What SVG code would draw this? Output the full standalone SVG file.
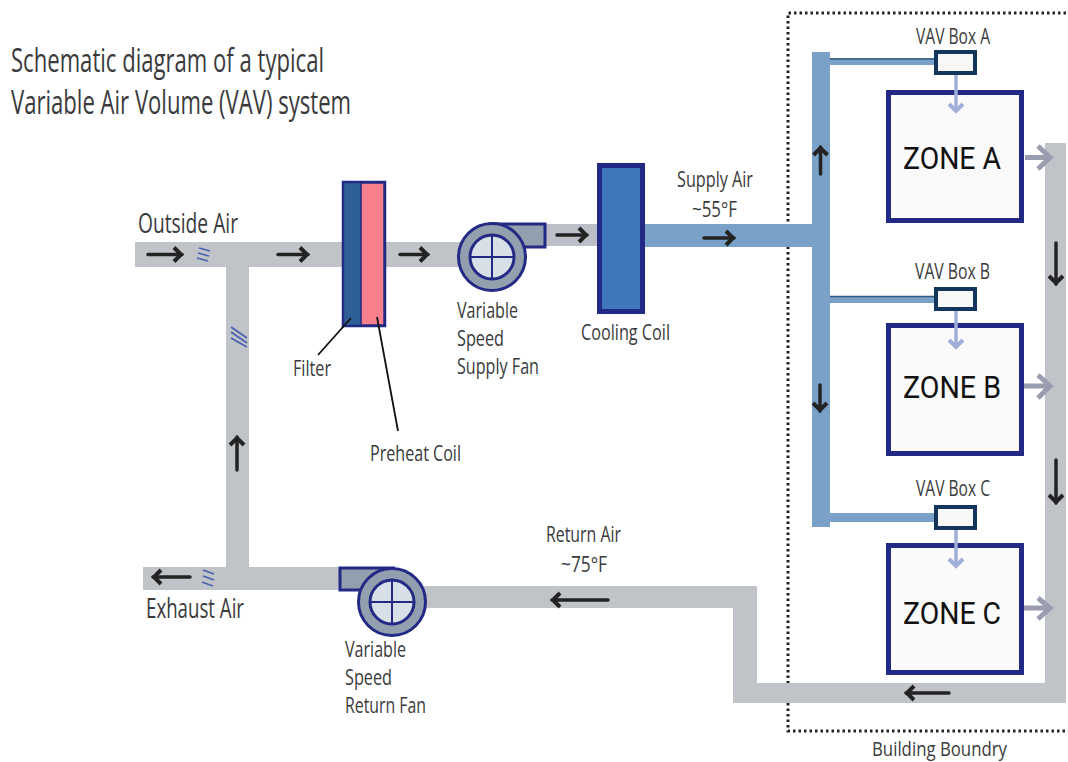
<svg xmlns="http://www.w3.org/2000/svg" width="1068" height="762" viewBox="0 0 1068 762">
<style>
text{font-family:"Open Sans","Noto Sans","Liberation Sans",sans-serif;fill:#3a3a3c}
.t{font-size:22.500px}
.b{font-size:20.500px}
.h{font-size:32px}
.o{font-size:27px}
.v{font-size:21px}
.z{font-family:"Roboto","Open Sans",sans-serif;font-size:32px;fill:#111;text-anchor:middle}
.duct{fill:#c0c3c8}
.sup{fill:#7aa2c8}
.zone{fill:#fafafa;stroke:#232a85;stroke-width:5}
.vav{fill:#f7f7f8;stroke:#12355b;stroke-width:4}
.fan{fill:#929fae;stroke:#232a85;stroke-width:3}
.fanin{fill:#d8e0e7;stroke:#232a85;stroke-width:3}
.bl{stroke:#232a85;stroke-width:2;fill:none}
.ar{fill:none;stroke:#232323;stroke-width:3.500;stroke-linecap:round}
.dn{fill:none;stroke:#9fafd8;stroke-width:3.500}
.out{fill:none;stroke:#9a9cb0;stroke-width:5}
.dam{stroke:#4a62b0;stroke-width:1.800;fill:none}
.lead{stroke:#111;stroke-width:1.800;fill:none}
</style>
<defs>
<marker id="h" markerUnits="userSpaceOnUse" markerWidth="16" markerHeight="18" refX="12" refY="9" orient="auto"><path d="M4 2L11 9L4 16" fill="none" stroke="#232323" stroke-width="4"/></marker>
</defs>
<path id="boundary" d="M1066 13H788V731H1066" fill="none" stroke="#222" stroke-width="3" stroke-dasharray="2.500 3"/>
<g id="connectors">
<path class="duct" d="M135 242H460V267H249V567H345V590H143V567H226V267H135Z"/>
<path class="duct" d="M420 586H757V683H1045V143H1066V703H733V608H420Z"/>
<path d="M540 224H600V246H540Z" fill="#bcbec8"/>
<path class="sup" d="M640 224H812V52H830V58H935V65H830V296H935V303H830V513H935V522H830V527H812V247H640Z"/>
<path d="M830 59H935M830 296.500H935" stroke="#33597f" stroke-width="1.500"/>
<g class="dam"><path d="M199 248L210 251M198 253L209 256M197 258L208 261"/><path d="M231 327L247 338M231 332L247 343M231 338L247 347"/><path d="M203 570L214 574M203 576L214 580M202 582L213 586"/></g>
<path class="lead" d="M351 318L318 355M377 317L398 431"/>
</g>
<g id="filter"><rect x="343" y="182" width="42" height="144" fill="#2f5f97" stroke="#232a85" stroke-width="2.500"/><rect x="361" y="183" width="23" height="142" fill="#f87f8c" stroke="#232a85" stroke-width="1.500"/><path class="lead" d="M351 318L342 328M377 317L379 328"/></g>
<g id="cooling-coil"><rect x="599.500" y="165.500" width="43" height="146" fill="#3f77bb" stroke="#232a85" stroke-width="5"/></g>
<g id="supply-fan"><path class="fan" d="M492 224H545V247H515Z"/><circle class="fan" cx="492" cy="257" r="33.500"/><circle class="fanin" cx="492" cy="257" r="22"/><path class="bl" d="M492 235V279M470 257H514"/></g>
<g id="return-fan"><path class="fan" d="M392 568H340V590H370Z"/><circle class="fan" cx="392" cy="602" r="33.500"/><circle class="fanin" cx="392" cy="602" r="22"/><path class="bl" d="M392 580V624M370 602H414"/></g>
<g id="vav-a"><rect class="vav" x="936" y="52" width="39" height="21"/></g>
<g id="vav-b"><rect class="vav" x="936" y="289" width="39" height="20"/></g>
<g id="vav-c"><rect class="vav" x="936" y="507" width="39" height="21"/></g>
<g id="zone-a"><rect class="zone" x="888.500" y="92.500" width="133" height="128"/><text class="z" x="952" y="169" textLength="98" lengthAdjust="spacingAndGlyphs">ZONE A</text></g>
<g id="zone-b"><rect class="zone" x="888.500" y="325.500" width="133" height="128"/><text class="z" x="952" y="398" textLength="98" lengthAdjust="spacingAndGlyphs">ZONE B</text></g>
<g id="zone-c"><rect class="zone" x="888.500" y="545.500" width="133" height="127"/><text class="z" x="952" y="624" textLength="98" lengthAdjust="spacingAndGlyphs">ZONE C</text></g>
<g id="arrows">
<g class="ar">
<path d="M148 254.500H182" marker-end="url(#h)"/><path d="M278 254.500H308" marker-end="url(#h)"/><path d="M400 254.500H428" marker-end="url(#h)"/>
<path d="M557 235H587" marker-end="url(#h)"/><path d="M704 238H734" marker-end="url(#h)"/>
<path d="M820.500 174V147" marker-end="url(#h)"/><path d="M820 385V411" marker-end="url(#h)"/>
<path d="M1056 243V284" marker-end="url(#h)"/><path d="M1056 460V503" marker-end="url(#h)"/>
<path d="M237 470V437" marker-end="url(#h)"/>
<path d="M190 577H153" marker-end="url(#h)"/><path d="M608 600H552" marker-end="url(#h)"/><path d="M949 693H906" marker-end="url(#h)"/>
</g>
<g class="dn">
<path d="M956 75V110"/><path d="M949 104L956 111L963 104" stroke-width="4"/>
<path d="M956 311V346"/><path d="M949 340L956 347L963 340" stroke-width="4"/>
<path d="M956 530V565"/><path d="M949 559L956 566L963 559" stroke-width="4"/>
</g>
<g class="out">
<path d="M1025 157.500H1050M1038 146L1050 157.500L1038 169"/>
<path d="M1024 386H1050M1038 375L1050 386L1038 398"/>
<path d="M1024 608H1050M1038 598L1050 608L1038 619"/>
</g>
</g>
<g id="labels">
<text class="h" x="11" y="72" textLength="313" lengthAdjust="spacingAndGlyphs">Schematic diagram of a typical</text>
<text class="h" x="11" y="114" textLength="340" lengthAdjust="spacingAndGlyphs">Variable Air Volume (VAV) system</text>
<text class="o" x="138" y="233" textLength="100" lengthAdjust="spacingAndGlyphs">Outside Air</text>
<text class="o" x="146" y="618" textLength="98" lengthAdjust="spacingAndGlyphs">Exhaust Air</text>
<text class="t" x="293" y="376" textLength="38" lengthAdjust="spacingAndGlyphs">Filter</text>
<text class="t" x="370" y="461" textLength="91" lengthAdjust="spacingAndGlyphs">Preheat Coil</text>
<text class="t" x="457" y="318" textLength="61" lengthAdjust="spacingAndGlyphs">Variable</text>
<text class="t" x="457" y="346" textLength="47" lengthAdjust="spacingAndGlyphs">Speed</text>
<text class="t" x="457" y="374" textLength="82" lengthAdjust="spacingAndGlyphs">Supply Fan</text>
<text class="t" x="581" y="340" textLength="89" lengthAdjust="spacingAndGlyphs">Cooling Coil</text>
<text class="t" x="677" y="187" textLength="76" lengthAdjust="spacingAndGlyphs">Supply Air</text>
<text class="t" x="692" y="217" textLength="45" lengthAdjust="spacingAndGlyphs">~55°F</text>
<text class="v" x="916" y="44" textLength="74" lengthAdjust="spacingAndGlyphs">VAV Box A</text>
<text class="v" x="915" y="279" textLength="75" lengthAdjust="spacingAndGlyphs">VAV Box B</text>
<text class="v" x="916" y="496" textLength="74" lengthAdjust="spacingAndGlyphs">VAV Box C</text>
<text class="t" x="546" y="542" textLength="75" lengthAdjust="spacingAndGlyphs">Return Air</text>
<text class="t" x="561" y="572" textLength="46" lengthAdjust="spacingAndGlyphs">~75°F</text>
<text class="t" x="345" y="657" textLength="61" lengthAdjust="spacingAndGlyphs">Variable</text>
<text class="t" x="345" y="685" textLength="47" lengthAdjust="spacingAndGlyphs">Speed</text>
<text class="t" x="345" y="713" textLength="81" lengthAdjust="spacingAndGlyphs">Return Fan</text>
<text class="b" x="872" y="756" textLength="135" lengthAdjust="spacingAndGlyphs">Building Boundry</text>
</g>
</svg>
